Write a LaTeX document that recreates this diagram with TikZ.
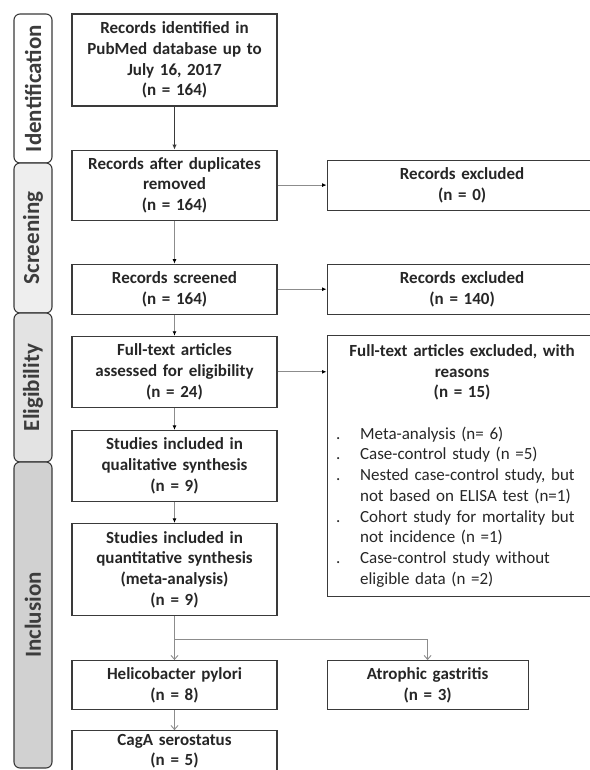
\documentclass[tikz,border=0pt]{standalone}
\usepackage{fontspec}
\setmainfont{Carlito}
\usetikzlibrary{arrows.meta}
\usetikzlibrary{calc}
\usetikzlibrary{positioning}

\definecolor{boxline}{HTML}{3A3A3A}
\definecolor{flowgray}{HTML}{8C8C8C}
\definecolor{inkgray}{HTML}{262626}
\definecolor{phaseink}{HTML}{3C3C3C}

% one line of the list of reasons
\newcommand{\reasonline}[2]{\makebox[260pt][l]{\mdseries\hspace{4pt}\makebox[24pt][l]{#1}#2}}

\begin{document}
\begin{tikzpicture}[x=1pt,y=1pt,
    font=\fontsize{17}{20.7}\selectfont\bfseries,
    text=inkgray,
    box/.style={shape=rectangle,
      draw=boxline,
      line width=1.1pt,
      text width=195pt,
      align=center,
      inner xsep=5pt,
      inner ysep=0pt},
    phase/.style={shape=rectangle,
      rounded corners=6pt,
      draw=boxline,
      line width=1.1pt,
      rotate=90,
      minimum height=38pt,
      text=phaseink,
      font=\fontsize{23}{27}\selectfont\bfseries},
    flowarrow/.style={draw=flowgray, line width=0.9pt,
      -{Latex[length=4.5pt,width=4pt,color=black]}},
    forkarrow/.style={draw=flowgray, line width=0.9pt,
      -{Straight Barb[length=4pt,width=7pt]}}]

    \path [use as bounding box] (0,0) rectangle (589,-770);

    % phases
    \node[name=idphase, phase, minimum width=149pt, fill=white]
      at (33,-88.5) {Identification};
    \node[name=scphase, phase, minimum width=150pt, fill=gray!13]
      at (33,-238) {Screening};
    \node[name=elphase, phase, minimum width=149pt, fill=gray!22]
      at (33,-387.5) {Eligibility};
    \node[name=inphase, phase, minimum width=306pt, fill=gray!36]
      at (33,-615) {Inclusion};

    % main column
    \node[name=records, box, minimum height=92pt]
      at (174.5,-60) {Records identified in\\PubMed database up to\\July 16, 2017\\(n = 164)};

    \node[name=dedup, box, minimum height=70pt,
      below=43pt of records] {Records after duplicates\\removed\\(n = 164)};

    \node[name=screened, box, minimum height=50pt,
      below=43pt of dedup] {Records screened\\(n = 164)};

    \node[name=fulltext, box, minimum height=71pt,
      below=21pt of screened] {Full-text articles\\assessed for eligibility\\(n = 24)};

    \node[name=qualit, box, minimum height=71pt,
      below=22pt of fulltext] {Studies included in\\qualitative synthesis\\(n = 9)};

    \node[name=quantit, box, minimum height=92pt,
      below=21pt of qualit] {Studies included in\\quantitative synthesis\\(meta-analysis)\\(n = 9)};

    \node[name=hpylori, box, minimum height=49pt,
      below=44pt of quantit] {Helicobacter pylori\\(n = 8)};

    \node[name=caga, box, minimum height=50pt,
      below=20pt of hpylori] {CagA serostatus\\(n = 5)\par\vspace{9pt}};

    % excluded column
    \node[name=excl0, box, text width=260pt, minimum height=50pt,
      right=49pt of dedup] {Records excluded\\(n = 0)};

    \node[name=excl140, box, text width=260pt, minimum height=50pt,
      right=49pt of screened] {Records excluded\\(n = 140)};

    \node[name=exclft, box, text width=260pt, minimum height=261pt,
      below=20pt of excl140] {Full-text articles excluded, with\\reasons\\(n = 15)\\[20.7pt]
      \reasonline{.}{Meta-analysis (n= 6)}\\
      \reasonline{.}{Case-control study (n =5)}\\
      \reasonline{.}{Nested case-control study, but}\\
      \reasonline{}{not based on ELISA test (n=1)}\\
      \reasonline{.}{Cohort study for mortality but}\\
      \reasonline{}{not incidence (n =1)}\\
      \reasonline{.}{Case-control study without}\\
      \reasonline{}{eligible data (n =2)}};

    \node[name=atrophic, box, text width=191pt, minimum height=49pt,
      right=49pt of hpylori] {Atrophic gastritis\\(n = 3)};

    \coordinate[below=23pt of quantit] (fork);

    \draw[draw=boxline, line width=1.4pt, -{Latex[length=5pt,width=4.5pt]}] (records) -- (dedup);
    \draw[flowarrow] (dedup) -- (screened);
    \draw[flowarrow] (screened) -- (fulltext);
    \draw[flowarrow] (fulltext) -- (qualit);
    \draw[flowarrow] (qualit) -- (quantit);
    \draw[flowarrow] (dedup) -- (excl0);
    \draw[flowarrow] (screened) -- (excl140);
    \draw[flowarrow] (fulltext.east) -- (fulltext.east -| exclft.west);
    \draw[forkarrow] (quantit) -- (hpylori);
    \draw[forkarrow] (fork) -| (atrophic);
    \draw[forkarrow] (hpylori) -- (caga);

  \end{tikzpicture}
\end{document}
